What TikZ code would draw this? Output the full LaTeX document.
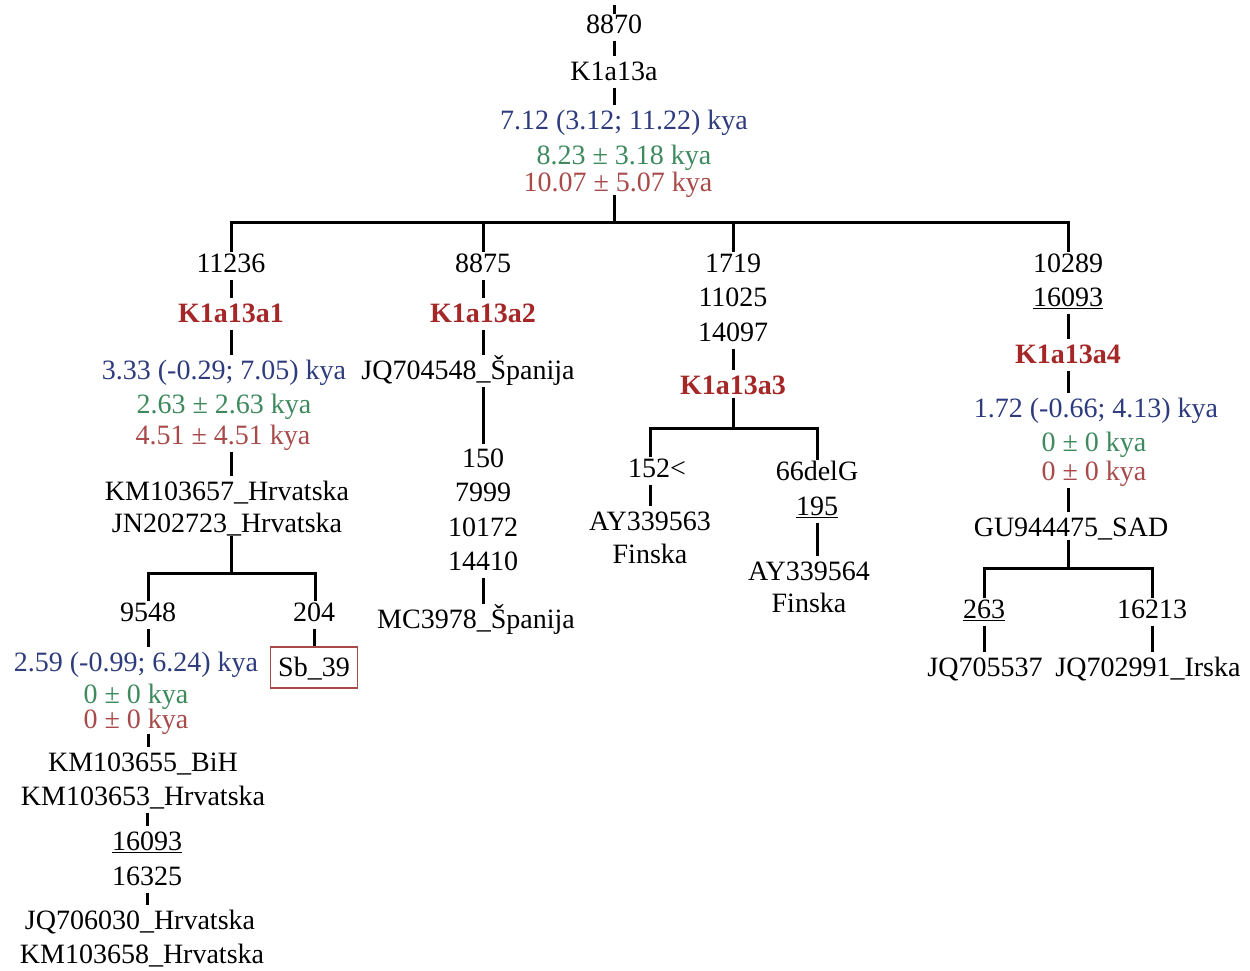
\documentclass[tikz,border=0pt]{standalone}
\usepackage{fontspec}
\setmainfont{Liberation Serif}
\definecolor{kblue}{HTML}{2E3C7E}
\definecolor{kgreen}{HTML}{3E8A5E}
\definecolor{kred}{HTML}{A84A4A}
\definecolor{kbold}{HTML}{A52828}
\begin{document}
\begin{tikzpicture}[x=1pt,y=-1pt,
  lbl/.style={inner sep=0pt, text height=20pt, text depth=3pt, font=\fontsize{28}{32}\selectfont, anchor=center},
  bl/.style={lbl, text=kblue},
  gr/.style={lbl, text=kgreen},
  rd/.style={lbl, text=kred},
  tight/.style={text height=18pt, text depth=1pt},
  hg/.style={lbl, text=kbold, font=\fontsize{28}{32}\selectfont\bfseries},
  ln/.style={line width=3pt, line join=miter},
  tk/.style={line width=3pt, shorten <=4pt, shorten >=4pt},
  boxed/.style={lbl, draw=kred, line width=1.2pt, inner xsep=8pt, inner ysep=9pt}]
\fill[white] (0,0) rectangle (1250,970);
\useasboundingbox (0,0) rectangle (1250,970);
% root
\coordinate (t0) at (614,5);
\node[lbl] (n8870) at (614,25) {8870};
\node[lbl] (nK) at (614,72) {K1a13a};
\node[bl] (a1) at (624,121) {7.12 (3.12; 11.22) kya};
\node[gr] (a2) at (624,156) {8.23 ± 3.18 kya};
\node[rd] (a3) at (618,183) {10.07 ± 5.07 kya};
\coordinate (j0) at (614,222);
\coordinate (b1) at (231,222);
\coordinate (b2) at (483,222);
\coordinate (b3) at (733,222);
\coordinate (b4) at (1068,222);
\draw[line width=3pt] (t0) -- ([yshift=-1pt]n8870.north);
\draw[tk] (n8870.south) -- (nK.north);
\draw[tk] (nK.south) -- (nK.south |- a1.north);
\draw[ln] (j0 |- a3.south) -- (j0);
% column 1
\node[lbl] (c1a) at (231,264) {11236};
\node[hg] (c1b) at (231,314) {K1a13a1};
\node[bl] (c1c) at (224,371) {3.33 (-0.29; 7.05) kya};
\node[gr] (c1d) at (224,405) {2.63 ± 2.63 kya};
\node[rd] (c1e) at (223,436) {4.51 ± 4.51 kya};
\node[lbl] (c1f) at (227,492) {KM103657\_Hrvatska};
\node[lbl] (c1g) at (227,524) {JN202723\_Hrvatska};
\coordinate (j1) at (231,573);
\coordinate (d1) at (148,573);
\coordinate (d2) at (315,573);
\node[lbl] (c1h) at (148,613) {9548};
\node[lbl] (c1i) at (314,613) {204};
\node[bl] (c1j) at (136,663) {2.59 (-0.99; 6.24) kya};
\node[boxed] (sb) at (314,667.5) {Sb\_39};
\node[gr, tight] (c1k) at (136,695) {0 ± 0 kya};
\node[rd, tight] (c1l) at (136,720) {0 ± 0 kya};
\node[lbl] (c1m) at (143,763) {KM103655\_BiH};
\node[lbl] (c1n) at (143,797) {KM103653\_Hrvatska};
\node[lbl] (c1o) at (147,842) {\underline{16093}};
\node[lbl] (c1p) at (147,877) {16325};
\node[lbl] (c1q) at (140,921) {JQ706030\_Hrvatska};
\node[lbl] (c1r) at (142,955) {KM103658\_Hrvatska};
% column 2
\node[lbl] (c2a) at (483,264) {8875};
\node[hg] (c2b) at (483,314) {K1a13a2};
\node[lbl] (c2c) at (468,371) {JQ704548\_Španija};
\node[lbl] (c2d) at (483,459) {150};
\node[lbl] (c2e) at (483,493) {7999};
\node[lbl] (c2f) at (483,528) {10172};
\node[lbl] (c2g) at (483,562) {14410};
\node[lbl] (c2h) at (476,620) {MC3978\_Španija};
% column 3
\node[lbl] (c3a) at (733,264) {1719};
\node[lbl] (c3b) at (733,298) {11025};
\node[lbl] (c3c) at (733,333) {14097};
\node[hg] (c3d) at (733,386) {K1a13a3};
\coordinate (j3) at (733,428);
\coordinate (e1) at (650,428);
\coordinate (e2) at (817,428);
\node[lbl] (c3e) at (657,469) {152<};
\node[lbl] (c3f) at (817,472) {66delG};
\node[lbl] (c3g) at (817,507) {\underline{195}};
\node[lbl] (c3h) at (650,522) {AY339563};
\node[lbl] (c3i) at (650,555) {Finska};
\node[lbl] (c3j) at (809,572) {AY339564};
\node[lbl] (c3k) at (809,604) {Finska};
% column 4
\node[lbl] (c4a) at (1068,264) {10289};
\node[lbl] (c4b) at (1068,298) {\underline{16093}};
\node[hg] (c4c) at (1068,355) {K1a13a4};
\node[bl] (c4d) at (1096,409) {1.72 (-0.66; 4.13) kya};
\node[gr] (c4e) at (1094,443) {0 ± 0 kya};
\node[rd] (c4f) at (1094,472) {0 ± 0 kya};
\node[lbl] (c4g) at (1071,528) {GU944475\_SAD};
\coordinate (j4) at (1068,568);
\coordinate (f1) at (984,568);
\coordinate (f2) at (1152,568);
\node[lbl] (c4h) at (984,610) {\underline{263}};
\node[lbl] (c4i) at (1152,610) {16213};
\node[lbl] (c4j) at (985,668) {JQ705537};
\node[lbl] (c4k) at (1148,668) {JQ702991\_Irska};
% main bracket
\draw[ln] (c1a.north -| b1) -- (b1) -- (b4) -- (c4a.north -| b4);
\draw[ln] (b2) -- (c2a.north);
\draw[ln] (b3) -- (c3a.north);
% column 1 connectors
\draw[tk] (c1a.south) -- (c1b.north);
\draw[tk] (c1b.south) -- (c1b.south |- c1c.north);
\draw[tk] (c1b.south |- c1e.south) -- (c1b.south |- c1f.north);
\draw[ln] (j1 |- c1g.south) -- (j1);
\draw[ln] (c1h.north) -- (d1) -- (d2) -- (c1i.north -| d2);
\draw[tk] (c1h.south) -- (c1h.south |- c1j.north);
\draw[shorten <=4pt, line width=3pt] (c1i.south) -- (c1i.south |- sb.north);
\draw[tk, shorten <=4pt] (c1h.south |- c1l.south) -- (c1h.south |- c1m.north);
\draw[tk] (c1o.south |- c1n.south) -- (c1o.north);
\draw[tk] (c1p.south) -- (c1p.south |- c1q.north);
% column 2 connectors
\draw[tk] (c2a.south) -- (c2b.north);
\draw[tk] (c2b.south) -- (c2b.south |- c2c.north);
\draw[ln, shorten <=4pt, shorten >=3pt] (c2d.north |- c2c.south) -- (c2d.north);
\draw[tk] (c2g.south) -- (c2g.south |- c2h.north);
% column 3 connectors
\draw[tk] (c3c.south) -- (c3d.north);
\draw[ln] (c3d.south) -- (j3);
\draw[ln] (e1 |- c3e.north) -- (e1) -- (e2) -- (c3f.north -| e2);
\draw[tk] (c3e.south -| e1) -- (c3h.north -| e1);
\draw[tk] (c3g.south) -- (c3g.south |- c3j.north);
% column 4 connectors
\draw[tk] (c4b.south) -- (c4c.north);
\draw[tk] (c4c.south) -- (c4c.south |- c4d.north);
\draw[tk] (c4c.south |- c4f.south) -- (c4c.south |- c4g.north);
\draw[ln] (j4 |- c4g.south) -- (j4);
\draw[ln] (c4h.north) -- (f1) -- (f2) -- (c4i.north);
\draw[tk] (c4h.south) -- (c4h.south |- c4j.north);
\draw[tk] (c4i.south) -- (c4i.south |- c4k.north);
\end{tikzpicture}
\end{document}
